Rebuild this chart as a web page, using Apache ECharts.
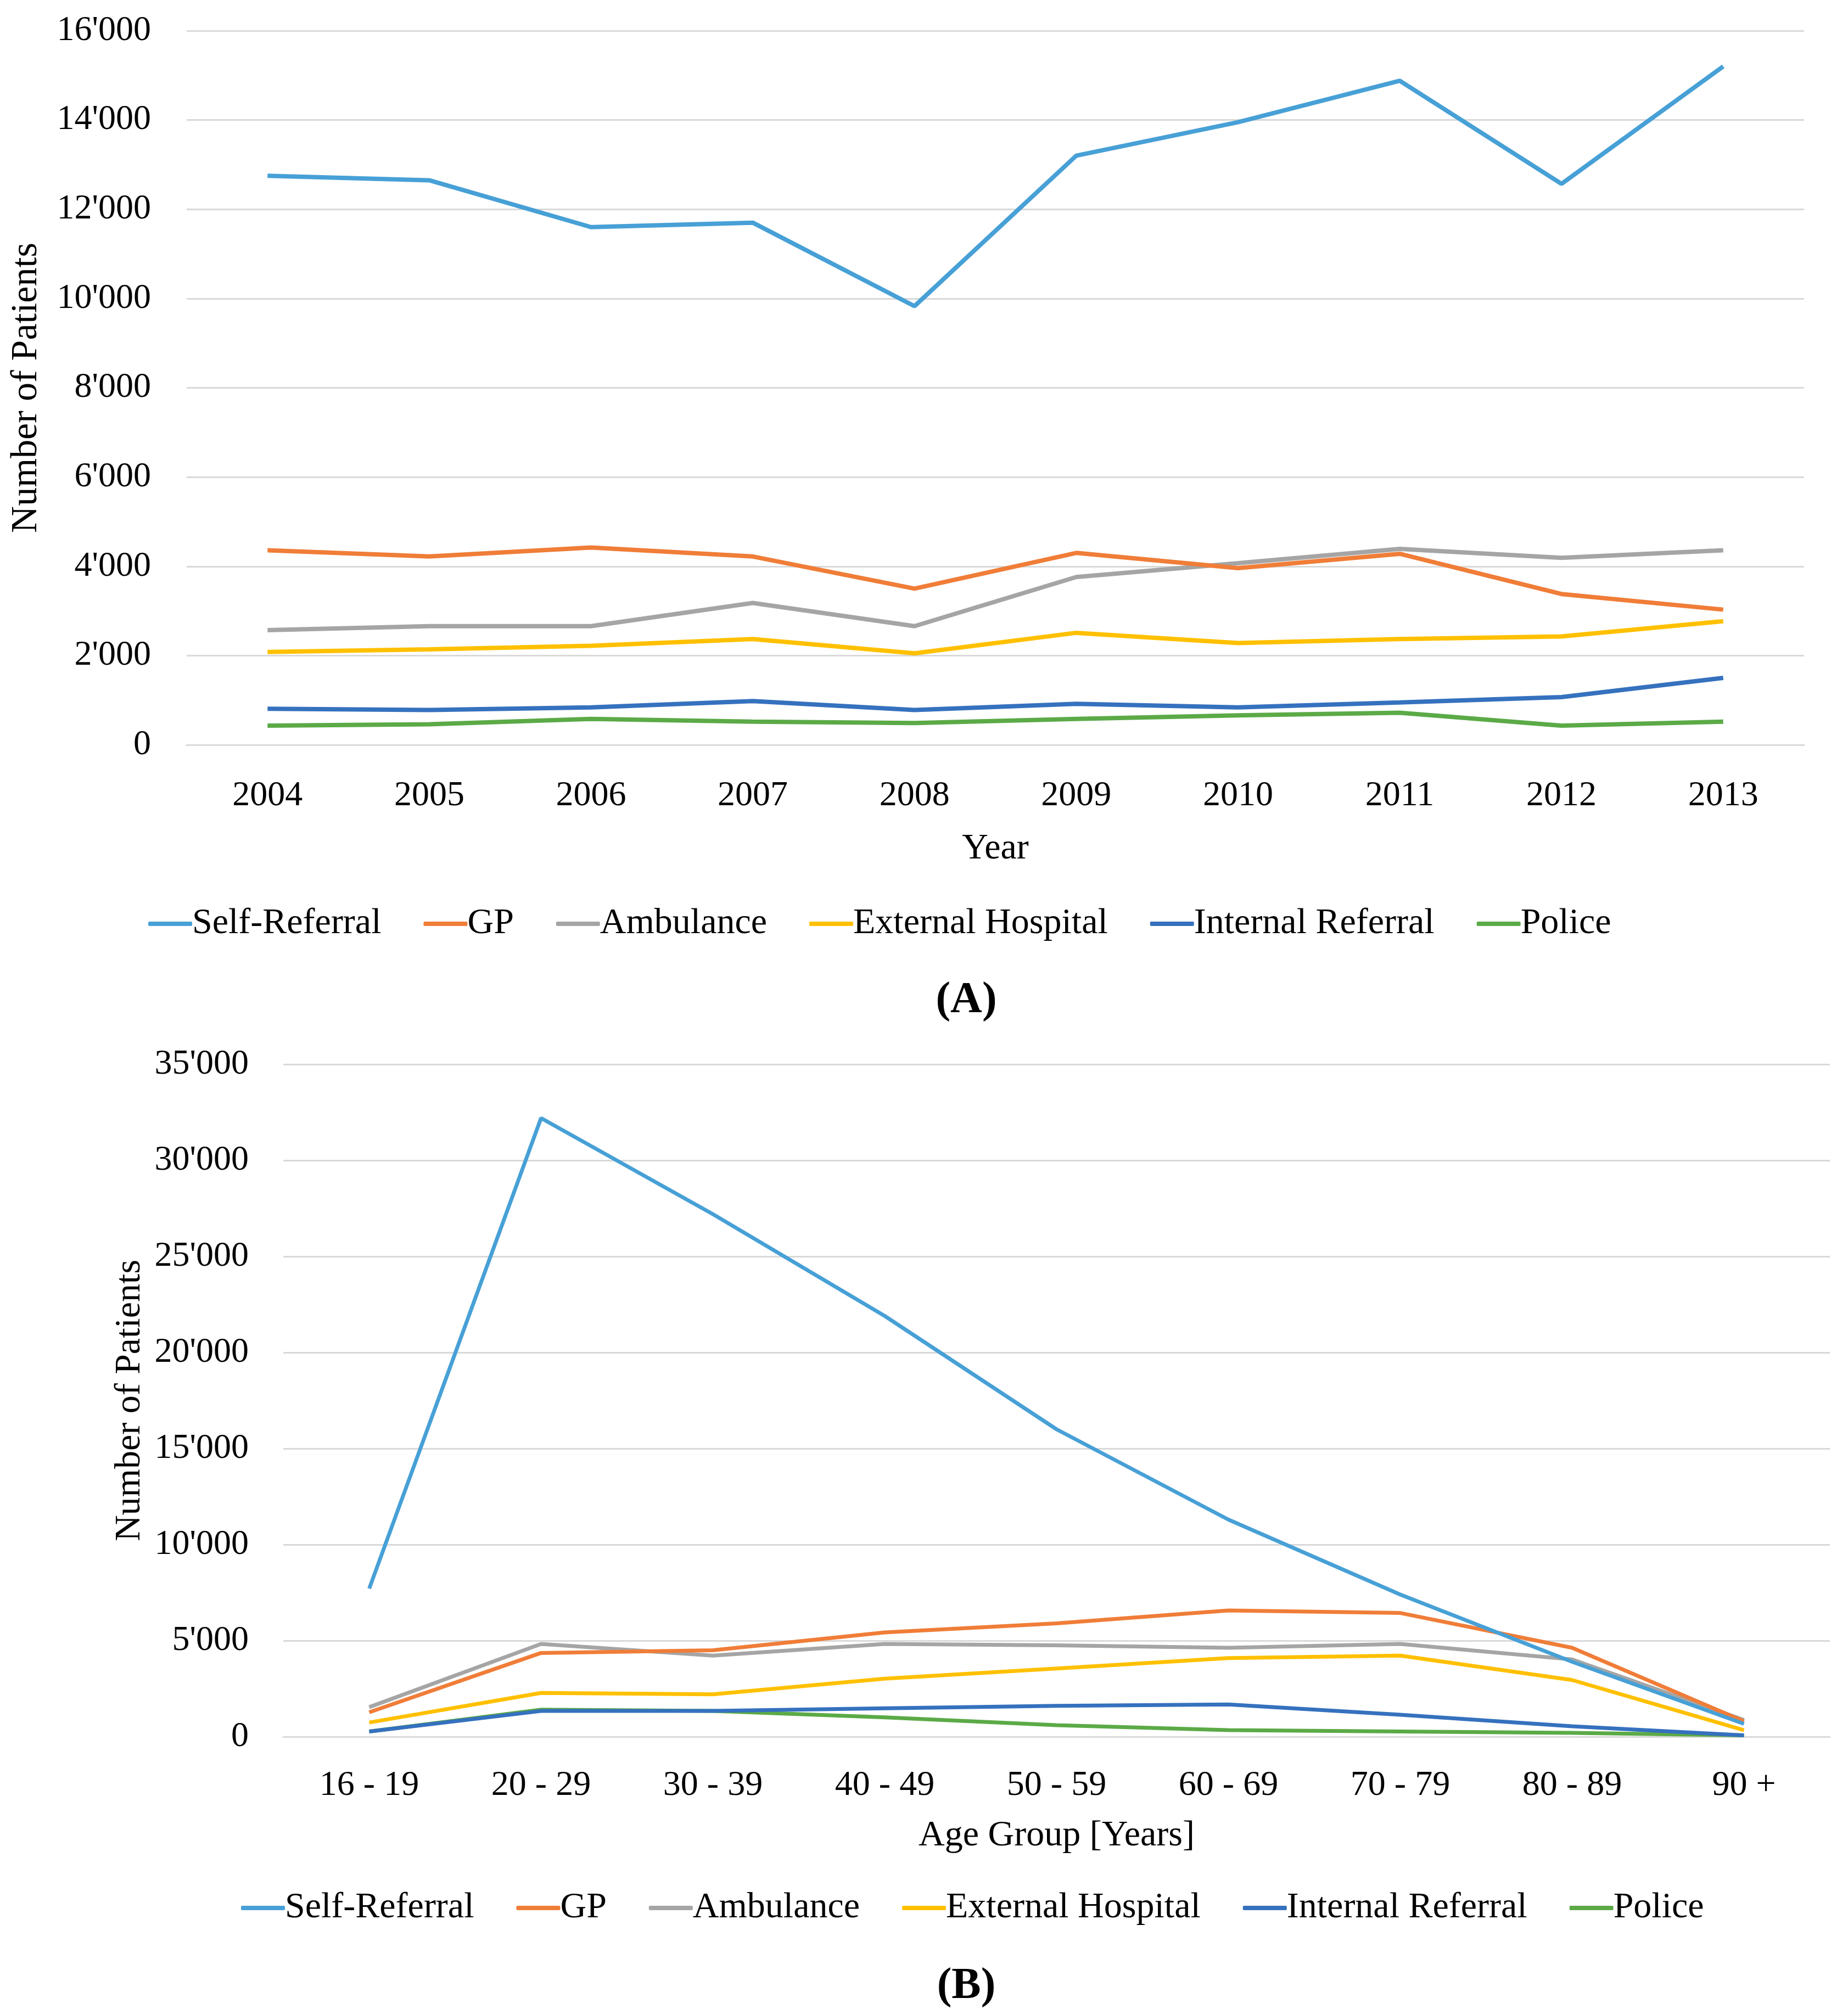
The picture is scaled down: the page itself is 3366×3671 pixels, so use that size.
<!DOCTYPE html>
<html>
<head>
<meta charset="utf-8">
<title>Patients by referral</title>
<script src="https://cdn.jsdelivr.net/npm/echarts@6/dist/echarts.min.js"></script>
<style>
  html, body { margin: 0; padding: 0; background: #ffffff; }
  #main { width: 3366px; height: 3671px; }
</style>
</head>
<body>
<div id="main"></div>
<script>
// --- data (A: by year) ---
var years = ['2004', '2005', '2006', '2007', '2008', '2009', '2010', '2011', '2012', '2013'];
var selfA     = [12750, 12650, 11600, 11700, 9830, 13200, 13950, 14880, 12570, 15200];
var gpA       = [4360, 4220, 4420, 4220, 3500, 4300, 3960, 4280, 3380, 3030];
var ambA      = [2570, 2660, 2660, 3180, 2660, 3760, 4070, 4390, 4190, 4360];
var extA      = [2080, 2140, 2220, 2370, 2050, 2510, 2280, 2370, 2430, 2770];
var intA      = [810, 780, 840, 980, 780, 920, 840, 950, 1070, 1500];
var policeA   = [430, 460, 580, 520, 490, 580, 660, 720, 430, 520];

// --- data (B: by age group) ---
var ageGroups = ['16 - 19', '20 - 29', '30 - 39', '40 - 49', '50 - 59', '60 - 69', '70 - 79', '80 - 89', '90 +'];
var selfB     = [7710, 32200, 27200, 21900, 16000, 11300, 7400, 3900, 670];
var gpB       = [1270, 4360, 4500, 5430, 5900, 6570, 6440, 4630, 800];
var ambB      = [1540, 4830, 4220, 4830, 4760, 4630, 4830, 4020, 870];
var extB      = [740, 2280, 2210, 3020, 3550, 4090, 4220, 2950, 340];
var intB      = [270, 1340, 1340, 1480, 1610, 1680, 1140, 540, 70];
var policeB   = [270, 1410, 1340, 1010, 600, 340, 270, 200, 70];

var names  = ['Self-Referral', 'GP', 'Ambulance', 'External Hospital', 'Internal Referral', 'Police'];
var colors = ['#47A0D6', '#F07D38', '#A5A5A5', '#FFC000', '#3571BE', '#5BAA47'];
var dataA  = [selfA, gpA, ambA, extA, intA, policeA];
var dataB  = [selfB, gpB, ambB, extB, intB, policeB];

var FONT = 'Liberation Serif';

function fmt(v) {
    var s = String(v);
    if (v >= 1000) s = s.slice(0, s.length - 3) + "'" + s.slice(-3);
    return s;
}

var chart = echarts.init(document.getElementById('main'), null, { renderer: 'canvas' });

var series = [];
names.forEach(function (n, i) {
    series.push({
        name: n, type: 'line', xAxisIndex: 0, yAxisIndex: 0,
        data: dataA[i], symbol: 'none', color: colors[i],
        lineStyle: { width: 8, color: colors[i] }, z: 10 - i
    });
});
names.forEach(function (n, i) {
    series.push({
        name: n, type: 'line', xAxisIndex: 1, yAxisIndex: 1,
        data: dataB[i], symbol: 'none', color: colors[i],
        lineStyle: { width: 7, color: colors[i] }, z: 10 - i
    });
});

function xAxis(idx, data, name, margin, gap) {
    return {
        type: 'category', gridIndex: idx, data: data, boundaryGap: true,
        name: name, nameLocation: 'middle', nameGap: gap,
        nameTextStyle: { fontFamily: FONT, fontSize: 66, color: '#000' },
        axisLine: { show: true, lineStyle: { color: '#D9D9D9', width: 3 } },
        axisTick: { show: false },
        axisLabel: { fontFamily: FONT, fontSize: 64, color: '#000', margin: margin, interval: 0 }
    };
}
function yAxis(idx, max, step, name, gap, margin, nameSize) {
    return {
        type: 'value', gridIndex: idx, min: 0, max: max, interval: step,
        name: name, nameLocation: 'middle', nameGap: gap,
        nameTextStyle: { fontFamily: FONT, fontSize: nameSize, color: '#000' },
        axisLine: { show: false }, axisTick: { show: false },
        splitLine: { lineStyle: { color: '#D9D9D9', width: 3 } },
        axisLabel: { fontFamily: FONT, fontSize: 64, color: '#000', margin: margin, formatter: fmt }
    };
}

function legend(left, top) {
    return {
        left: left, top: top, data: names, icon: 'roundRect',
        itemWidth: 80, itemHeight: 8, itemGap: 77,
        textStyle: { fontFamily: FONT, fontSize: 66, color: '#000', padding: [0, 0, 0, -5] }
    };
}

function caption(letter, top) {
    return {
        text: '{n|(}{b|' + letter + '}{n|)}', left: 1755, top: top, textAlign: 'center',
        textStyle: { rich: {
            n: { fontFamily: FONT, fontSize: 80, color: '#000' },
            b: { fontFamily: FONT, fontSize: 80, fontWeight: 'bold', color: '#000' }
        } }
    };
}

chart.setOption({
    animation: false,
    backgroundColor: '#ffffff',
    title: [caption('A', 1778), caption('B', 3574)],
    legend: [legend(265, 1645), legend(434, 3438)],
    grid: [
        { left: 340, right: 80, top: 56, height: 1301, outerBoundsMode: 'none' },
        { left: 516, right: 33, top: 1939, height: 1225, outerBoundsMode: 'none' }
    ],
    xAxis: [xAxis(0, years, 'Year', 61, 157), xAxis(1, ageGroups, 'Age Group [Years]', 57, 148)],
    yAxis: [yAxis(0, 16000, 2000, 'Number of Patients', 258, 65, 68), yAxis(1, 35000, 5000, 'Number of Patients', 246, 63, 66)],
    series: series
});
</script>
</body>
</html>
